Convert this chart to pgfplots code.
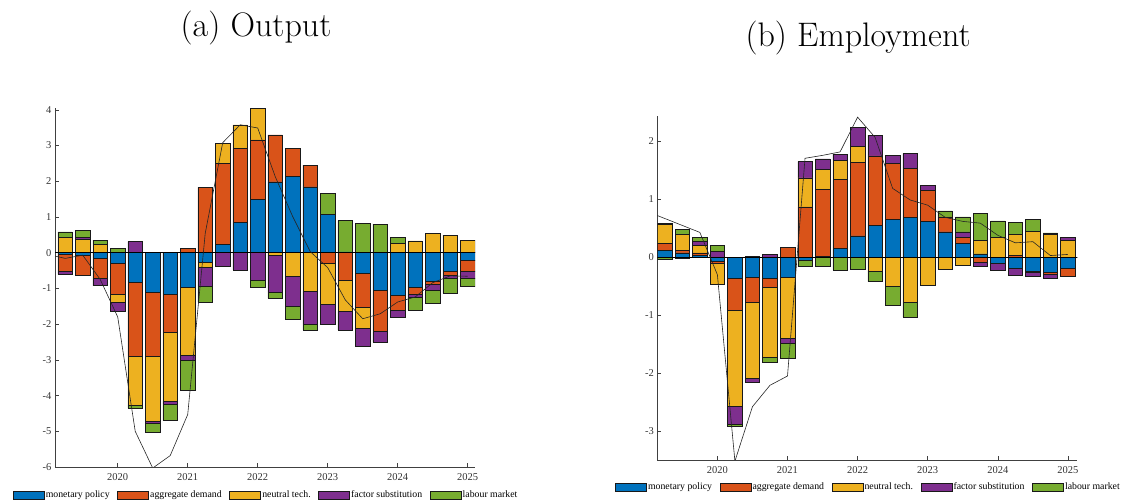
\documentclass[border=0pt]{standalone}
\usepackage{fontspec}
\usepackage{pgfplots}
\usepackage{pgfplotstable}
\pgfplotsset{compat=1.18}
\newfontfamily\lib{Liberation Serif}
\definecolor{cmp}{RGB}{0,114,189}
\definecolor{cad}{RGB}{217,83,25}
\definecolor{cnt}{RGB}{237,177,32}
\definecolor{cfs}{RGB}{126,47,142}
\definecolor{clm}{RGB}{119,172,48}

\pgfplotstableread{
year mp ad nt fs lm
2019.25 -0.05 -0.46 0.43 -0.10 0.15
2019.50 -0.06 -0.56 0.37 0.05 0.21
2019.75 -0.17 -0.55 0.23 -0.20 0.12
2020.00 -0.31 -0.84 -0.23 -0.26 0.13
2020.25 -0.82 -2.08 -1.36 0.31 -0.10
2020.50 -1.10 -1.80 -1.83 -0.05 -0.25
2020.75 -1.15 -1.09 -1.92 -0.07 -0.47
2021.00 -0.96 0.11 -1.90 -0.14 -0.86
2021.25 -0.28 1.83 -0.14 -0.51 -0.45
2021.50 0.23 2.27 0.57 -0.38 0.00
2021.75 0.85 2.07 0.66 -0.48 0.00
2022.00 1.50 1.66 0.87 -0.78 -0.18
2022.25 1.98 1.32 -0.07 -1.05 -0.16
2022.50 2.14 0.79 -0.65 -0.85 -0.35
2022.75 1.84 0.61 -1.07 -0.94 -0.15
2023.00 1.07 -0.29 -1.14 -0.58 0.60
2023.25 0.02 -0.78 -0.86 -0.52 0.88
2023.50 -0.57 -0.97 -0.57 -0.51 0.82
2023.75 -1.06 -1.13 -0.02 -0.29 0.80
2024.00 -1.18 -0.44 0.25 -0.19 0.17
2024.25 -0.96 -0.21 0.33 -0.09 -0.34
2024.50 -0.79 -0.10 0.54 -0.17 -0.35
2024.75 -0.51 -0.13 0.49 -0.09 -0.40
2025.00 -0.21 -0.30 0.35 -0.22 -0.21
}\outA

\pgfplotstableread{
year val
2019.00 -0.05
2019.25 -0.16
2019.50 -0.07
2019.75 -0.75
2020.00 -1.80
2020.25 -5.00
2020.50 -6.03
2020.75 -5.68
2021.00 -4.53
2021.25 0.54
2021.50 3.08
2021.75 3.58
2022.00 3.49
2022.25 2.13
2022.50 1.01
2022.75 0.03
2023.00 -0.42
2023.25 -1.32
2023.50 -1.85
2023.75 -1.71
2024.00 -1.38
2024.25 -1.24
2024.50 -0.84
2024.75 -0.65
2025.00 -0.66
}\lineA

\pgfplotstableread{
year mp ad nt fs lm
2019.25 0.115 0.125 0.33 0.02 -0.03
2019.50 0.075 0.04 0.285 -0.02 0.08
2019.75 0.03 0.045 0.125 0.07 0.08
2020.00 -0.06 -0.04 -0.37 0.10 0.10
2020.25 -0.36 -0.56 -1.66 -0.30 -0.03
2020.50 -0.35 -0.42 -1.32 -0.06 0.02
2020.75 -0.36 -0.16 -1.20 0.05 -0.09
2021.00 -0.35 0.17 -1.05 -0.08 -0.26
2021.25 -0.05 0.87 0.50 0.28 -0.11
2021.50 0.02 1.15 0.35 0.18 -0.15
2021.75 0.15 1.19 0.34 0.10 -0.22
2022.00 0.37 1.27 0.27 0.33 -0.21
2022.25 0.55 1.20 -0.24 0.36 -0.18
2022.50 0.65 0.97 -0.50 0.14 -0.32
2022.75 0.69 0.84 -0.77 0.26 -0.26
2023.00 0.62 0.53 -0.48 0.09 0.00
2023.25 0.44 0.26 -0.21 0.00 0.10
2023.50 0.24 0.10 -0.14 0.10 0.26
2023.75 0.06 -0.09 0.23 -0.07 0.47
2024.00 -0.10 0.00 0.34 -0.12 0.29
2024.25 -0.19 0.03 0.37 -0.12 0.20
2024.50 -0.24 -0.02 0.45 -0.07 0.20
2024.75 -0.25 -0.04 0.40 -0.08 0.02
2025.00 -0.19 -0.13 0.29 0.06 0.00
}\empB

\pgfplotstableread{
year val
2019.00 0.79
2019.25 0.67
2019.50 0.55
2019.75 0.43
2020.00 -0.30
2020.25 -3.52
2020.50 -2.58
2020.75 -2.21
2021.00 -2.05
2021.25 1.71
2021.50 1.76
2021.75 1.82
2022.00 2.42
2022.25 2.07
2022.50 1.19
2022.75 0.99
2023.00 0.90
2023.25 0.69
2023.50 0.62
2023.75 0.59
2024.00 0.38
2024.25 0.25
2024.50 0.27
2024.75 0.03
2025.00 0.05
}\lineB

\pgfplotsset{
  base/.style={
    scale only axis, width=420pt, anchor=south west,
    axis lines*=left,
    tick align=inside, major tick length=4pt,
    axis line style={black!75, line width=0.5pt},
    tick style={black!75, line width=0.5pt},
    ticklabel style={font=\lib\fontsize{10.5}{12}\selectfont, text=black!80},
    /pgf/number format/assume math mode=true,
    xtick={2020,2021,2022,2023,2024,2025},
    xticklabels={2020,2021,2022,2023,2024,2025},
    xticklabel style={yshift=-3pt},
    clip=true,
  },
  bars/.style={ybar stacked, bar width=0.207,
    every axis plot/.append style={draw=black!90, line width=0.5pt}},
  leg/.style={legend image code/.code={\draw[##1,draw=black!90,line width=0.5pt] (0pt,-4pt) rectangle (31pt,4pt);}},
  legsty/.style={legend columns=5,
    legend style={draw=none, fill=none, font=\lib\fontsize{9.8}{11}\selectfont,
      inner sep=0pt, nodes={inner sep=1.5pt},
      /tikz/every even column/.append style={column sep=6pt}}},
}

\begin{document}
\begin{tikzpicture}
\useasboundingbox (0,0) rectangle (1123pt,500pt);
\node[anchor=base, font=\fontsize{34}{40}\selectfont] at (256pt,463pt) {(a) Output};
\node[anchor=base, font=\fontsize{34}{40}\selectfont] at (858pt,453pt) {(b) Employment};

% ---------- Panel (a)
\begin{axis}[base, bars, legsty, at={(55pt,33pt)}, height=359pt,
  xmin=2019.104, xmax=2025.104, ymin=-6, ymax=4.05, ytick={-6,-5,...,4},
  legend style={at={(0.502,-0.078)}, anchor=center}]
\addplot[fill=cmp, leg] table[x=year, y expr={max(\thisrow{mp},0)}]{\outA};
\addlegendentry{monetary policy}
\addplot[fill=cad, leg] table[x=year, y expr={max(\thisrow{ad},0)}]{\outA};
\addlegendentry{aggregate demand}
\addplot[fill=cnt, leg] table[x=year, y expr={max(\thisrow{nt},0)}]{\outA};
\addlegendentry{neutral tech.}
\addplot[fill=cfs, leg] table[x=year, y expr={max(\thisrow{fs},0)}]{\outA};
\addlegendentry{factor substitution}
\addplot[fill=clm, leg] table[x=year, y expr={max(\thisrow{lm},0)}]{\outA};
\addlegendentry{labour market}
\end{axis}
\begin{axis}[base, bars, hide axis, at={(55pt,33pt)}, height=359pt,
  xmin=2019.104, xmax=2025.104, ymin=-6, ymax=4.05]
\addplot[fill=cmp] table[x=year, y expr={min(\thisrow{mp},0)}]{\outA};
\addplot[fill=cad] table[x=year, y expr={min(\thisrow{ad},0)}]{\outA};
\addplot[fill=cnt] table[x=year, y expr={min(\thisrow{nt},0)}]{\outA};
\addplot[fill=cfs] table[x=year, y expr={min(\thisrow{fs},0)}]{\outA};
\addplot[fill=clm] table[x=year, y expr={min(\thisrow{lm},0)}]{\outA};
\end{axis}
\begin{axis}[base, hide axis, at={(55pt,33pt)}, height=359pt,
  xmin=2019.104, xmax=2025.104, ymin=-6, ymax=4.05]
\addplot[black, line width=0.7pt, no marks] coordinates {(2019,0) (2025.3,0)};
\addplot[black!85, line width=0.6pt, no marks] table[x=year, y=val]{\lineA};
\end{axis}

% ---------- Panel (b)
\begin{axis}[base, bars, legsty, at={(657.3pt,40pt)}, height=344pt,
  xmin=2019.143, xmax=2025.134, ymin=-3.5, ymax=2.44, ytick={-3,-2,...,2},
  legend style={at={(0.502,-0.0785)}, anchor=center}]
\addplot[fill=cmp, leg] table[x=year, y expr={max(\thisrow{mp},0)}]{\empB};
\addlegendentry{monetary policy}
\addplot[fill=cad, leg] table[x=year, y expr={max(\thisrow{ad},0)}]{\empB};
\addlegendentry{aggregate demand}
\addplot[fill=cnt, leg] table[x=year, y expr={max(\thisrow{nt},0)}]{\empB};
\addlegendentry{neutral tech.}
\addplot[fill=cfs, leg] table[x=year, y expr={max(\thisrow{fs},0)}]{\empB};
\addlegendentry{factor substitution}
\addplot[fill=clm, leg] table[x=year, y expr={max(\thisrow{lm},0)}]{\empB};
\addlegendentry{labour market}
\end{axis}
\begin{axis}[base, bars, hide axis, at={(657.3pt,40pt)}, height=344pt,
  xmin=2019.143, xmax=2025.134, ymin=-3.5, ymax=2.44]
\addplot[fill=cmp] table[x=year, y expr={min(\thisrow{mp},0)}]{\empB};
\addplot[fill=cad] table[x=year, y expr={min(\thisrow{ad},0)}]{\empB};
\addplot[fill=cnt] table[x=year, y expr={min(\thisrow{nt},0)}]{\empB};
\addplot[fill=cfs] table[x=year, y expr={min(\thisrow{fs},0)}]{\empB};
\addplot[fill=clm] table[x=year, y expr={min(\thisrow{lm},0)}]{\empB};
\end{axis}
\begin{axis}[base, hide axis, at={(657.3pt,40pt)}, height=344pt,
  xmin=2019.143, xmax=2025.134, ymin=-3.5, ymax=2.44]
\addplot[black, line width=0.7pt, no marks] coordinates {(2019,0) (2025.3,0)};
\addplot[black!85, line width=0.6pt, no marks] table[x=year, y=val]{\lineB};
\end{axis}
\end{tikzpicture}
\end{document}
